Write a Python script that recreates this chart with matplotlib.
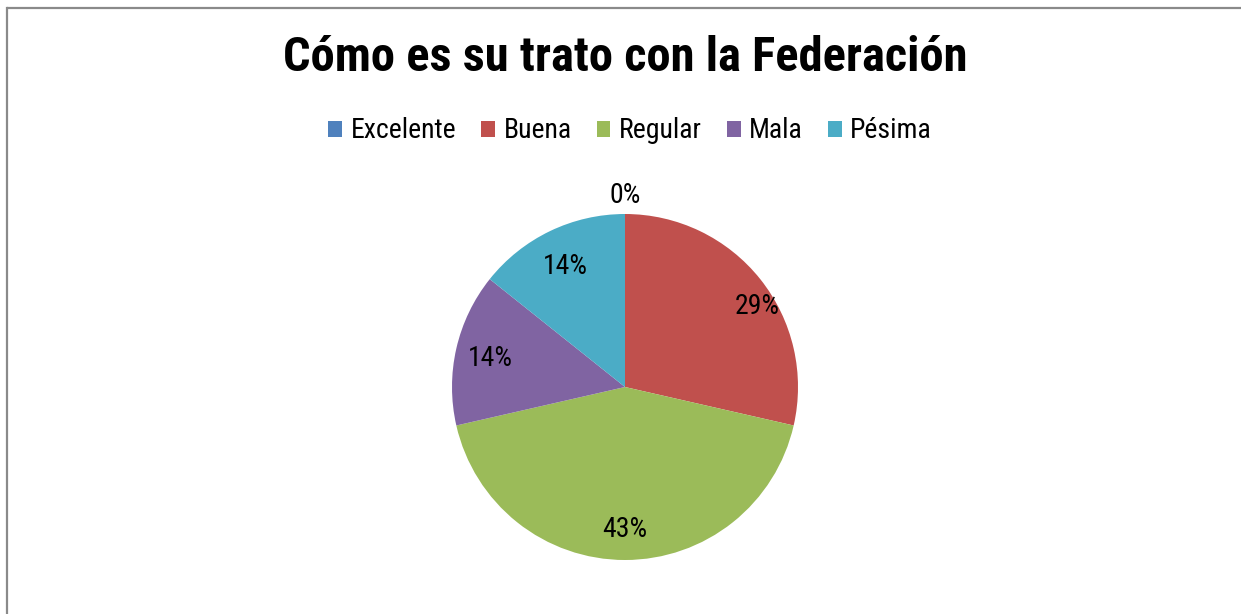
import numpy as np
import matplotlib.pyplot as plt
from matplotlib.lines import Line2D

categories = ['Excelente', 'Buena', 'Regular', 'Mala', 'Pésima']
values = [0, 2, 3, 1, 1]
colors = ['#4F81BD', '#C0504D', '#9BBB59', '#8064A2', '#4BACC6']
label_dist = [1.12, 0.9, 0.81, 0.8, 0.79]
label_turn = [0, -6.5, 0, 0, 0]  # degrees, Excel "best fit" nudges

plt.rcParams['font.family'] = ['Liberation Sans Narrow', 'Roboto Condensed', 'DejaVu Sans Condensed',
                               'Roboto', 'DejaVu Sans']
plt.rcParams['font.stretch'] = 'condensed'

W, H = 1241, 614
fig = plt.figure(figsize=(W / 100, H / 100), dpi=100)

# grey chart border (only top and left are visible in the crop)
fig.add_artist(Line2D([6.5 / W, 1.0], [1 - 8 / H, 1 - 8 / H], transform=fig.transFigure,
                      color='#8a8a8a', linewidth=1.6, solid_capstyle='butt'))
fig.add_artist(Line2D([6.5 / W, 6.5 / W], [0, 1 - 8 / H], transform=fig.transFigure,
                      color='#8a8a8a', linewidth=1.6, solid_capstyle='projecting'))

cx, cy, r = 625, 387, 173
ax = fig.add_axes([(cx - r) / W, (H - cy - r) / H, 2 * r / W, 2 * r / H])
wedges, texts, autotexts = ax.pie(values, colors=colors, startangle=90, counterclock=False,
                                  autopct='%1.0f%%', radius=1, pctdistance=0.8,
                                  wedgeprops=dict(linewidth=0),
                                  textprops=dict(fontsize=20, color='black'))
ax.set_xlim(-1, 1)
ax.set_ylim(-1, 1)
ax.set_aspect('equal')
ax.axis('off')

# move percentage labels
for w, t, d, a in zip(wedges, autotexts, label_dist, label_turn):
    ang = np.deg2rad((w.theta1 + w.theta2) / 2 + a)
    t.set_position((d * np.cos(ang), d * np.sin(ang) - 0.015))
    t.set_clip_on(False)

fig.text(cx / W, 1 - 58 / H, 'Cómo es su trato con la Federación', ha='center', va='center',
         fontsize=35, fontweight='bold')

fig.legend(wedges, categories, loc='center', bbox_to_anchor=(630 / W, 1 - 131 / H), ncol=5,
           frameon=False, fontsize=20, handlelength=0.5, handleheight=0.5, handletextpad=0.3,
           columnspacing=0.9)

fig.savefig('out.png', dpi=100)
